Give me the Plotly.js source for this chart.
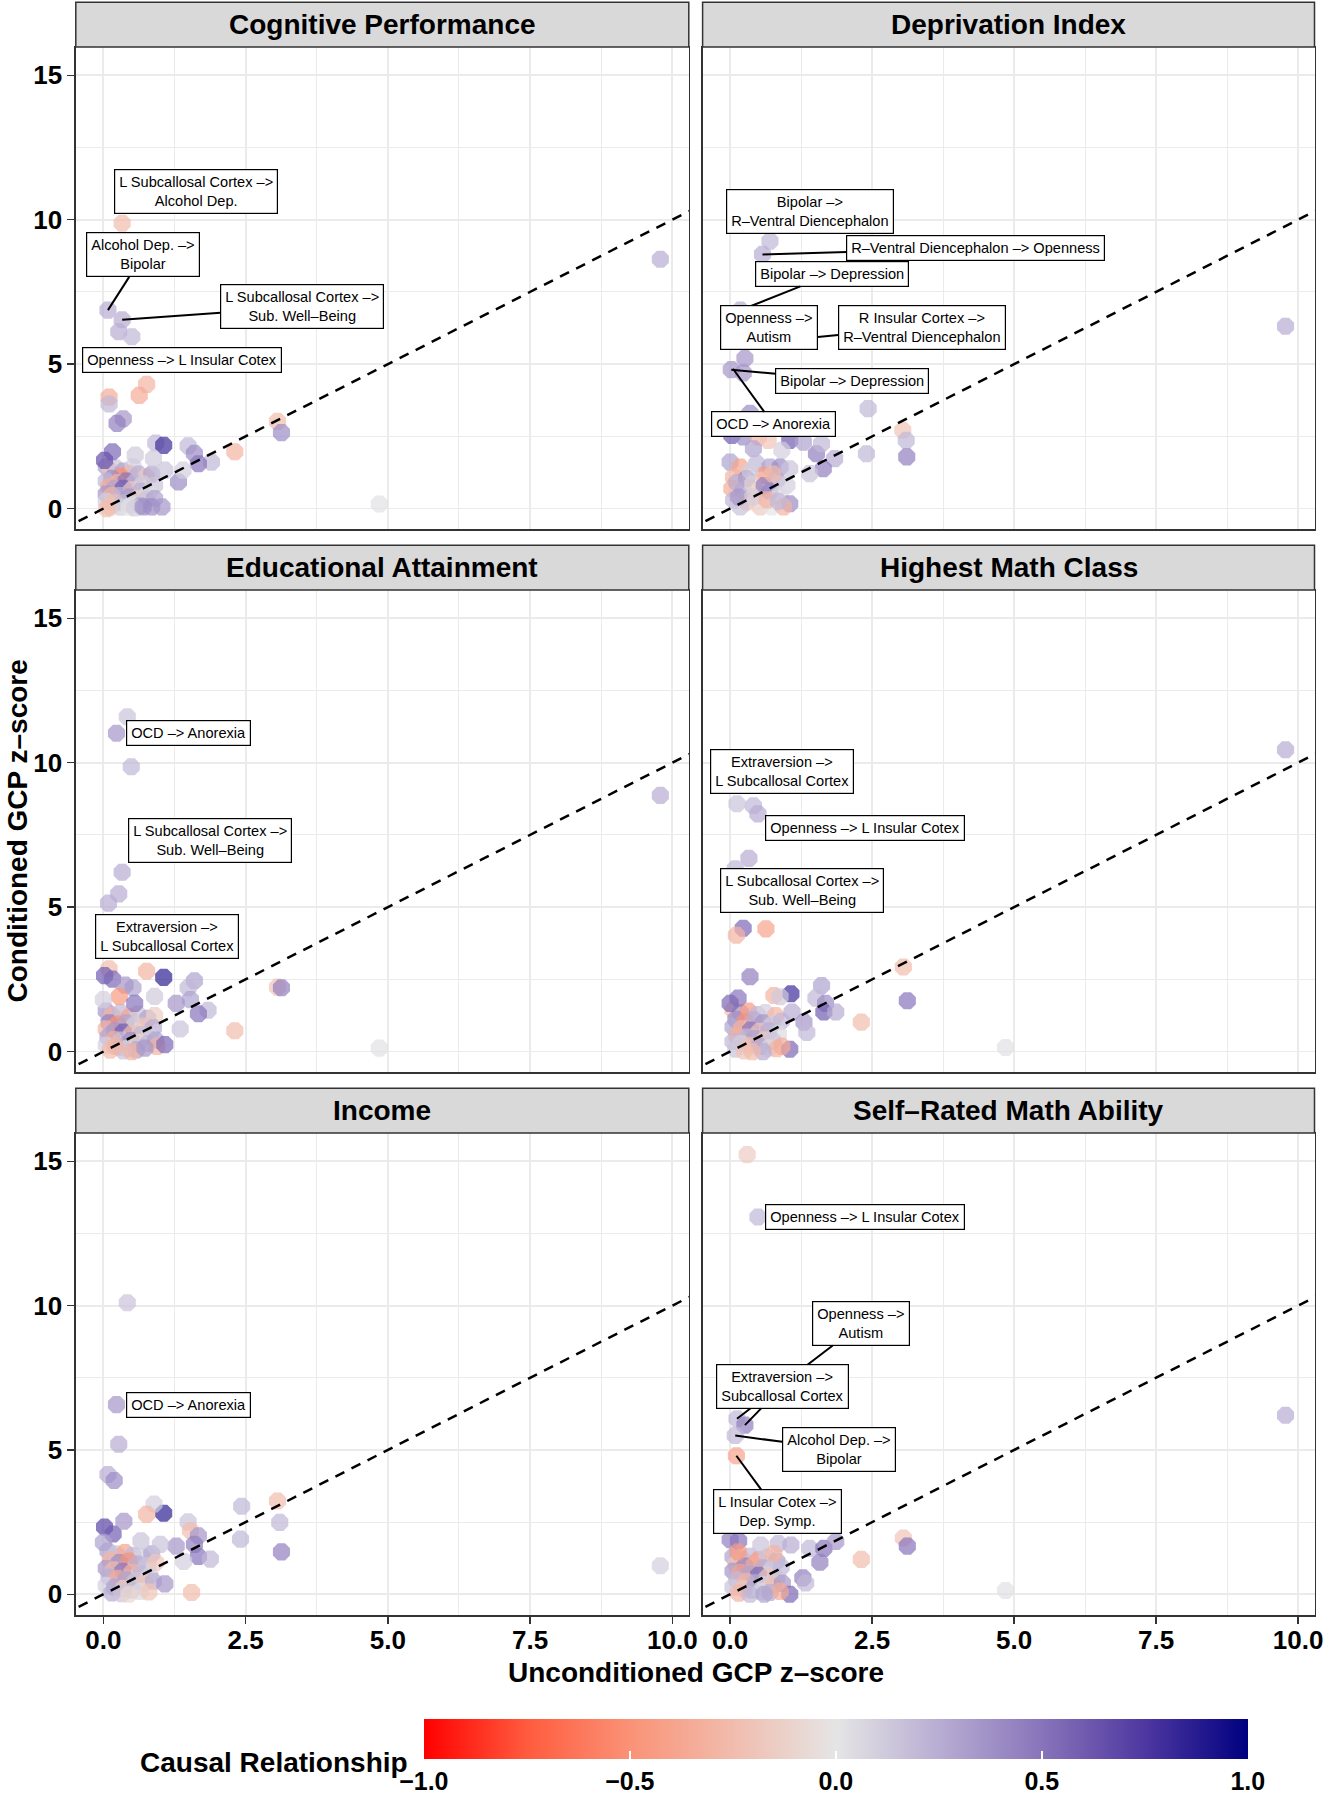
<!DOCTYPE html>
<html>
<head>
<meta charset="utf-8">
<script src="https://cdn.plot.ly/plotly-3.0.1.min.js"></script>
<style>body{margin:0;background:#fff}</style>
</head>
<body>
<div id="chart" style="width:1326px;height:1800px"></div>
<script>
// Each point: [unconditioned GCP z-score, conditioned GCP z-score, causal relationship]
const cognitivePerformance = [
 [0.05,1.45,0.3],[0.12,1.30,-0.2],[0.22,1.40,0.15],[0.35,1.30,0.3],[0.45,1.22,-0.5],[0.52,1.45,0.1],[0.62,1.20,0.25],[0.75,1.10,-0.2],[0.85,1.20,0.3],[0.30,1.12,-0.5],[0.15,1.05,0.4],[0.05,0.95,0.2],[0.25,0.90,-0.3],[0.40,0.95,0.5],[0.55,0.90,0.2],[0.70,0.85,0.1],[0.90,0.80,0.15],[0.10,0.75,-0.35],[0.20,0.70,0.3],[0.35,0.70,0.6],[0.50,0.65,-0.15],[0.65,0.60,0.25],[0.80,0.55,0.05],[0.05,0.50,0.35],[0.15,0.45,-0.3],[0.30,0.45,0.2],[0.45,0.40,0.35],[0.60,0.35,-0.1],[0.75,0.30,0.15],[0.90,0.35,0.3],[0.05,0.25,0.1],[0.20,0.20,-0.25],[0.35,0.20,0.2],[0.50,0.15,0.05],[0.65,0.10,0.3],[0.12,0.05,-0.2],[0.30,0.05,0.1],[0.45,0.05,0.02],[0.55,0.02,0.1],
 [0.33,9.88,-0.25],[9.79,8.63,0.25],[0.08,6.87,0.25],[0.33,6.54,0.25],[0.27,6.12,0.25],[0.50,5.95,0.2],[0.76,4.30,-0.3],[0.63,3.92,-0.35],[0.10,3.86,-0.35],[0.10,3.62,0.2],[0.35,3.11,0.35],[0.24,2.95,0.45],[3.06,3.02,-0.25],[3.13,2.63,0.4],[2.31,1.97,-0.3],[0.92,2.27,0.2],[1.06,2.19,0.8],[1.49,2.17,0.2],[1.60,1.91,0.4],[1.90,1.61,0.2],[1.67,1.55,0.5],[1.32,0.92,0.4],[1.08,1.33,0.15],[1.40,1.33,0.1],[0.16,1.97,0.55],[0.02,1.67,0.65],[0.56,1.85,0.12],[0.88,1.73,0.12],[4.85,0.16,0.02],[0.70,0.06,0.4],[0.85,0.06,0.4],[1.03,0.06,0.35],[0.06,0.00,-0.25]
];
const deprivationIndex = [
 [0.03,2.53,0.6],[0.23,2.48,0.4],[0.50,2.48,-0.3],[0.67,2.36,-0.2],[1.05,2.36,0.6],[0.41,2.07,0.3],[0.91,2.02,0.1],[0.00,1.61,0.3],[0.18,1.44,-0.4],[0.47,1.56,0.2],[0.70,1.44,0.3],[0.88,1.44,0.4],[1.05,1.38,0.15],[0.06,1.09,-0.3],[0.29,1.04,0.5],[0.59,1.15,-0.45],[0.82,0.98,0.3],[1.00,0.81,0.1],[0.03,0.69,-0.35],[0.23,0.63,0.3],[0.47,0.58,-0.2],[0.70,0.58,0.35],[0.88,0.46,0.05],[1.05,0.17,0.4],[0.06,0.29,0.2],[0.29,0.23,-0.25],[0.53,0.06,-0.15],[0.73,0.06,0.0],[0.94,0.06,-0.3],[0.18,0.06,0.15],[0.12,0.90,0.25],[0.40,0.85,-0.1],[0.60,0.80,0.45],[0.35,1.30,0.1],[0.75,1.20,-0.25],[0.15,0.40,0.35],[0.40,0.40,0.1],[0.65,0.30,-0.3],[0.85,0.25,0.2],
 [0.70,9.26,0.2],[0.57,8.80,0.25],[0.18,6.87,0.25],[1.23,5.88,0.3],[0.26,5.20,0.35],[0.02,4.81,0.35],[0.23,4.70,0.35],[0.35,3.30,0.4],[9.78,6.31,0.25],[2.43,3.46,0.2],[3.04,2.71,-0.2],[3.10,2.36,0.2],[3.11,1.79,0.45],[2.40,1.90,0.2],[1.84,1.73,0.25],[1.64,1.38,0.45],[1.52,1.90,0.45],[1.40,1.21,0.15],[1.61,2.25,0.2],[1.29,2.30,0.3]
];
const educationalAttainment = [
 [0.05,1.40,0.35],[0.15,1.25,-0.3],[0.30,1.35,0.2],[0.45,1.20,-0.4],[0.60,1.30,0.15],[0.78,1.15,0.3],[0.90,1.25,-0.15],[0.10,1.00,0.45],[0.25,0.95,-0.5],[0.40,1.00,0.3],[0.55,0.92,0.1],[0.72,0.88,-0.2],[0.88,0.82,0.25],[0.05,0.78,-0.3],[0.20,0.72,0.35],[0.35,0.68,0.6],[0.50,0.62,-0.25],[0.66,0.58,0.2],[0.82,0.52,0.1],[0.08,0.50,0.3],[0.18,0.42,-0.35],[0.32,0.40,0.15],[0.48,0.38,0.4],[0.62,0.32,-0.1],[0.78,0.28,0.2],[0.92,0.40,0.3],[0.05,0.22,0.1],[0.28,0.15,0.25],[0.42,0.10,0.05],[0.58,0.06,0.3],[0.12,0.05,-0.25],[0.35,0.02,0.15],[0.50,0.00,-0.3],
 [0.42,11.59,0.15],[0.23,11.02,0.35],[0.49,9.86,0.2],[9.79,8.87,0.25],[0.33,6.21,0.25],[0.27,5.46,0.25],[0.09,5.14,0.25],[0.10,2.87,-0.25],[0.76,2.78,-0.3],[1.06,2.57,0.85],[0.02,2.63,0.6],[0.16,2.51,0.55],[3.06,2.23,-0.2],[3.13,2.21,0.45],[2.31,0.72,-0.25],[4.85,0.12,0.02],[1.60,2.45,0.3],[1.49,2.21,0.2],[1.84,1.43,0.2],[1.67,1.31,0.5],[1.53,1.80,0.3],[1.28,1.67,0.35],[0.90,1.91,0.12],[0.52,2.21,0.3],[0.38,2.30,0.35],[0.28,1.91,-0.45],[0.55,1.67,0.5],[0.00,1.80,0.1],[1.35,0.78,0.15],[0.94,0.18,-0.3],[0.73,0.12,0.35],[1.08,0.24,0.55],[0.21,0.18,-0.3]
];
const highestMathClass = [
 [0.05,1.45,-0.25],[0.18,1.35,0.3],[0.32,1.40,-0.45],[0.48,1.28,0.2],[0.62,1.35,0.1],[0.80,1.25,-0.3],[0.10,1.12,0.4],[0.26,1.05,-0.5],[0.42,1.10,0.25],[0.58,1.00,0.35],[0.75,0.95,0.1],[0.90,1.05,0.2],[0.05,0.85,0.3],[0.20,0.80,-0.3],[0.36,0.75,0.5],[0.52,0.70,-0.2],[0.68,0.72,0.25],[0.85,0.62,0.05],[0.12,0.55,-0.35],[0.28,0.50,0.2],[0.44,0.45,0.3],[0.60,0.40,-0.15],[0.75,0.38,0.15],[0.05,0.35,0.2],[0.20,0.28,0.1],[0.36,0.22,-0.25],[0.52,0.18,0.3],[0.68,0.12,0.05],[0.82,0.10,-0.3],[0.10,0.08,0.15],[0.25,0.02,-0.2],[0.58,0.00,0.25],
 [9.78,10.45,0.25],[0.12,8.58,0.15],[0.41,8.51,0.2],[0.49,8.23,0.25],[0.33,6.69,0.25],[0.09,6.33,0.2],[0.23,4.27,0.55],[0.11,4.03,-0.3],[0.63,4.25,-0.4],[3.05,2.93,-0.25],[3.12,1.76,0.5],[2.31,1.02,-0.25],[4.85,0.14,0.02],[0.35,2.59,0.45],[1.61,2.29,0.3],[1.07,2.00,0.8],[1.51,1.85,0.2],[1.68,1.67,0.4],[1.65,1.37,0.6],[1.86,1.37,0.25],[0.77,1.94,-0.3],[0.88,1.90,0.12],[0.14,1.85,0.5],[0.00,1.67,0.55],[1.09,1.37,0.25],[1.30,1.02,0.35],[1.35,0.66,0.2],[1.05,0.08,0.55],[0.91,0.18,-0.35],[0.39,0.00,-0.25]
];
const income = [
 [0.08,1.50,0.3],[0.22,1.40,0.15],[0.38,1.45,-0.4],[0.52,1.35,0.2],[0.68,1.30,0.1],[0.85,1.40,0.3],[0.12,1.18,-0.3],[0.28,1.10,0.4],[0.45,1.15,-0.5],[0.60,1.05,0.25],[0.78,1.00,0.15],[0.92,1.10,-0.2],[0.05,0.90,0.35],[0.18,0.85,-0.25],[0.34,0.80,0.5],[0.50,0.76,-0.3],[0.66,0.70,0.2],[0.82,0.65,0.1],[0.10,0.60,0.25],[0.25,0.55,-0.35],[0.40,0.50,0.3],[0.56,0.45,0.15],[0.72,0.40,-0.2],[0.88,0.45,0.25],[0.05,0.30,0.1],[0.20,0.25,0.3],[0.35,0.20,-0.15],[0.50,0.15,0.2],[0.65,0.10,0.05],[0.80,0.08,-0.2],[0.15,0.05,0.25],[0.32,0.02,0.15],[0.45,0.00,-0.1],
 [0.42,10.10,0.15],[0.23,6.57,0.35],[0.27,5.20,0.25],[0.08,4.15,0.25],[0.19,3.94,0.4],[2.43,3.05,0.2],[3.06,3.23,-0.25],[3.10,2.49,0.2],[3.13,1.47,0.45],[2.41,1.91,0.2],[9.79,0.99,0.1],[1.55,0.06,-0.25],[1.06,2.81,0.85],[0.89,3.13,0.1],[0.76,2.77,-0.3],[0.36,2.53,0.35],[0.02,2.33,0.7],[0.17,2.09,0.6],[1.49,2.51,0.15],[1.53,2.21,-0.25],[1.67,2.03,0.35],[1.60,1.73,0.45],[1.67,1.31,0.5],[1.88,1.22,0.2],[1.41,1.14,0.1],[1.28,1.67,0.35],[1.00,1.73,0.15],[0.66,1.85,0.15],[0.00,1.80,0.3],[1.08,0.36,0.35]
];
const selfRatedMathAbility = [
 [0.05,1.30,0.3],[0.20,1.25,-0.3],[0.35,1.32,0.2],[0.50,1.20,-0.45],[0.65,1.28,0.15],[0.82,1.15,0.3],[0.10,1.05,-0.2],[0.26,0.98,0.45],[0.42,1.02,-0.35],[0.58,0.92,0.25],[0.74,0.88,0.1],[0.90,0.95,0.2],[0.05,0.80,0.35],[0.18,0.75,-0.4],[0.34,0.70,0.3],[0.50,0.66,0.55],[0.66,0.60,-0.2],[0.82,0.55,0.15],[0.12,0.50,0.2],[0.28,0.45,-0.3],[0.44,0.40,0.25],[0.60,0.35,0.1],[0.76,0.30,-0.25],[0.92,0.38,0.35],[0.05,0.25,0.15],[0.22,0.20,-0.2],[0.38,0.15,0.3],[0.54,0.10,0.05],[0.70,0.06,0.25],[0.15,0.04,-0.3],[0.35,0.00,0.2],
 [0.30,15.23,-0.15],[0.49,13.07,0.2],[9.78,6.20,0.25],[0.12,6.08,0.2],[0.26,5.86,0.45],[0.09,5.50,0.2],[0.11,4.80,-0.4],[3.05,1.95,-0.2],[3.12,1.67,0.5],[2.31,1.21,-0.25],[4.85,0.13,0.02],[0.00,1.89,0.45],[0.15,1.85,0.5],[0.54,1.71,0.15],[0.85,1.76,0.2],[1.07,1.71,0.25],[1.40,1.59,0.2],[1.65,1.59,0.5],[1.86,1.83,0.35],[1.58,1.11,0.45],[1.28,0.57,0.45],[1.33,0.39,0.2],[1.05,0.00,0.55],[0.88,0.10,-0.35],[0.60,0.00,0.3],[0.14,1.47,-0.45],[0.77,1.41,-0.3]
];

// Repelled labels: point (x, y) and label centre (bx, by), in data units
const cognitiveLabels = [
 {text:'L Subcallosal Cortex –><br>Alcohol Dep.', bx:1.63, by:10.97},
 {text:'Alcohol Dep. –><br>Bipolar', x:0.08, y:6.87, bx:0.70, by:8.78},
 {text:'L Subcallosal Cortex –><br>Sub. Well–Being', x:0.33, y:6.54, bx:3.49, by:6.98},
 {text:'Openness –> L Insular Cotex', bx:1.39, by:5.14}
];
const deprivationLabels = [
 {text:'R Insular Cortex –><br>R–Ventral Diencephalon', x:1.23, y:5.88, bx:3.37, by:6.28},
 {text:'Bipolar –> Depression', x:0.18, y:6.87, bx:1.79, by:8.12},
 {text:'Openness –><br>Autism', bx:0.69, by:6.28},
 {text:'Bipolar –><br>R–Ventral Diencephalon', bx:1.40, by:10.30},
 {text:'R–Ventral Diencephalon –> Openness', x:0.57, y:8.80, bx:4.32, by:9.01},
 {text:'Bipolar –> Depression', x:0.02, y:4.81, bx:2.15, by:4.42},
 {text:'OCD –> Anorexia', x:0.05, y:4.84, bx:0.76, by:2.92}
];
const educationLabels = [
 {text:'OCD –> Anorexia', bx:1.49, by:11.03},
 {text:'L Subcallosal Cortex –><br>Sub. Well–Being', bx:1.88, by:7.31},
 {text:'Extraversion –><br>L Subcallosal Cortex', bx:1.12, by:3.98}
];
const mathClassLabels = [
 {text:'Extraversion –><br>L Subcallosal Cortex', bx:0.92, by:9.68},
 {text:'Openness –> L Insular Cotex', bx:2.38, by:7.75},
 {text:'L Subcallosal Cortex –><br>Sub. Well–Being', bx:1.27, by:5.58}
];
const incomeLabels = [
 {text:'OCD –> Anorexia', bx:1.49, by:6.57}
];
const selfRatedLabels = [
 {text:'Openness –> L Insular Cotex', bx:2.38, by:13.06},
 {text:'Openness –><br>Autism', x:0.12, y:6.08, bx:2.31, by:9.38},
 {text:'Extraversion –><br>Subcallosal Cortex', x:0.26, y:5.86, bx:0.92, by:7.20},
 {text:'Alcohol Dep. –><br>Bipolar', x:0.09, y:5.50, bx:1.91, by:5.02},
 {text:'L Insular Cotex –><br>Dep. Symp.', x:0.11, y:4.80, bx:0.83, by:2.87}
];

const panelTitles = ['Cognitive Performance','Deprivation Index','Educational Attainment','Highest Math Class','Income','Self–Rated Math Ability'];
const panelData = [cognitivePerformance, deprivationIndex, educationalAttainment, highestMathClass, income, selfRatedMathAbility];
const panelLabels = [cognitiveLabels, deprivationLabels, educationLabels, mathClassLabels, incomeLabels, selfRatedLabels];
const identityLine = [-1, 11];   // y = x reference
const xTickVals = [0, 2.5, 5, 7.5, 10];
const yTickVals = [0, 5, 10, 15];
const colorTickVals = [-1, -0.5, 0, 0.5, 1];

const FONT = 'Liberation Sans, Arial, Helvetica, sans-serif';
const W = 1326, H = 1800;
const colPx = [[75.8, 688.8], [702.6, 1314.5]];
const rowPx = [[47, 529.3], [590, 1072.3], [1133, 1615]];
const stripH = 44.7;
const xRange = [-0.485, 10.29];
const yRange = [-0.717, 15.98];

const colorscale = [
 [0, '#FF0000'], [0.125, '#FF5B3E'], [0.25, '#FA9276'], [0.375, '#F1BCAD'],
 [0.5, '#E5E5E5'], [0.625, '#B8ADD3'], [0.75, '#8874BA'], [0.875, '#4E37A0'], [1, '#000080']
];

const traces = [];
const layout = {
  width: W, height: H,
  margin: {l: 0, r: 0, t: 0, b: 0, autoexpand: false},
  paper_bgcolor: '#fff', plot_bgcolor: '#fff',
  font: {family: FONT, color: '#000'},
  showlegend: false,
  shapes: [], annotations: []
};

panelData.forEach((pts, i) => {
  const row = Math.floor(i / 2), col = i % 2;
  const sfx = i === 0 ? '' : String(i + 1);
  const xa = 'x' + sfx, ya = 'y' + sfx;
  traces.push({
    type: 'scatter', mode: 'markers', xaxis: xa, yaxis: ya,
    x: pts.map(p => p[0]), y: pts.map(p => p[1]),
    hoverinfo: 'skip',
    marker: {
      color: pts.map(p => p[2]), colorscale: colorscale, cmin: -1, cmax: 1,
      size: 18.5, symbol: 'octagon', opacity: 0.7, line: {width: 0},
      showscale: i === 0,
      colorbar: {
        orientation: 'h', x: ((423.6 + 1248) / 2) / W, xanchor: 'center',
        y: 1 - 1719 / H, yanchor: 'top', len: (1248 - 423.6) / W, lenmode: 'fraction',
        thickness: 40, thicknessmode: 'pixels', xpad: 0, ypad: 0, outlinewidth: 0,
        tickvals: colorTickVals, tickformat: '.1f', ticks: 'inside', ticklen: 8,
        tickcolor: '#fff', tickwidth: 1.5,
        tickfont: {family: FONT, size: 25, weight: 'bold', color: '#000'}
      }
    }
  });
  traces.push({
    type: 'scatter', mode: 'lines', xaxis: xa, yaxis: ya,
    x: identityLine, y: identityLine, hoverinfo: 'skip',
    line: {color: '#000', width: 2.5, dash: '10px,8px'}
  });
  const xd = colPx[col].map(v => v / W);
  const yd = [1 - rowPx[row][1] / H, 1 - rowPx[row][0] / H];
  const common = {
    showline: true, mirror: true, linecolor: '#333', linewidth: 1.5,
    zeroline: false, showgrid: true, gridcolor: '#EBEBEB', gridwidth: 1.8,
    ticklen: 7, tickwidth: 1.5, tickcolor: '#333',
    tickfont: {family: FONT, size: 26, weight: 'bold', color: '#000'},
    fixedrange: true
  };
  layout['xaxis' + sfx] = Object.assign({}, common, {
    domain: xd, anchor: ya, range: xRange,
    tickvals: xTickVals, tickformat: '.1f', ticklabelstandoff: -6,
    showticklabels: row === 2, ticks: row === 2 ? 'outside' : '',
    minor: {dtick: 1.25, tick0: 0, showgrid: true, gridcolor: '#EBEBEB', gridwidth: 1, ticks: ''}
  });
  layout['yaxis' + sfx] = Object.assign({}, common, {
    domain: yd, anchor: xa, range: yRange,
    tickvals: yTickVals, tickformat: 'd',
    showticklabels: col === 0, ticks: col === 0 ? 'outside' : '',
    minor: {dtick: 2.5, tick0: 0, showgrid: true, gridcolor: '#EBEBEB', gridwidth: 1, ticks: ''}
  });
  // facet strip
  const sTop = rowPx[row][0] - stripH, sBot = rowPx[row][0];
  layout.shapes.push({
    type: 'rect', xref: 'paper', yref: 'paper',
    x0: xd[0], x1: xd[1], y0: 1 - sBot / H, y1: 1 - sTop / H,
    fillcolor: '#D9D9D9', line: {color: '#333', width: 1.5}, layer: 'above'
  });
  layout.annotations.push({
    xref: 'paper', yref: 'paper', x: (xd[0] + xd[1]) / 2, y: 1 - (sTop + sBot) / 2 / H,
    xanchor: 'center', yanchor: 'middle', showarrow: false,
    text: panelTitles[i], font: {family: FONT, size: 28, weight: 'bold', color: '#000'}
  });
  panelLabels[i].forEach(l => {
    const a = {
      xref: xa, yref: ya, text: l.text, align: 'center',
      font: {family: FONT, size: 14.6, color: '#000'},
      bgcolor: '#fff', bordercolor: '#000', borderwidth: 1.2, borderpad: 4
    };
    if (l.x !== undefined) {
      Object.assign(a, {x: l.x, y: l.y, ax: l.bx, ay: l.by, axref: xa, ayref: ya,
        showarrow: true, arrowhead: 0, arrowwidth: 2, arrowcolor: '#000', standoff: 0});
    } else {
      Object.assign(a, {x: l.bx, y: l.by, showarrow: false});
    }
    layout.annotations.push(a);
  });
});

layout.annotations.push({
  xref: 'paper', yref: 'paper', x: 695.7 / W, y: 1 - 1672 / H,
  xanchor: 'center', yanchor: 'middle', showarrow: false,
  text: 'Unconditioned GCP z–score', font: {family: FONT, size: 28, weight: 'bold', color: '#000'}
});
layout.annotations.push({
  xref: 'paper', yref: 'paper', x: 0, y: 1 - 831 / H,
  xanchor: 'left', yanchor: 'middle', showarrow: false, textangle: -90, borderpad: 0,
  text: 'Conditioned GCP z–score', font: {family: FONT, size: 28, weight: 'bold', color: '#000'}
});
layout.annotations.push({
  xref: 'paper', yref: 'paper', x: 410 / W, y: 1 - 1762 / H,
  xanchor: 'right', yanchor: 'middle', showarrow: false,
  text: 'Causal Relationship', font: {family: FONT, size: 28, weight: 'bold', color: '#000'}
});

Plotly.newPlot('chart', traces, layout, {displayModeBar: false, staticPlot: true});
</script>
</body>
</html>
